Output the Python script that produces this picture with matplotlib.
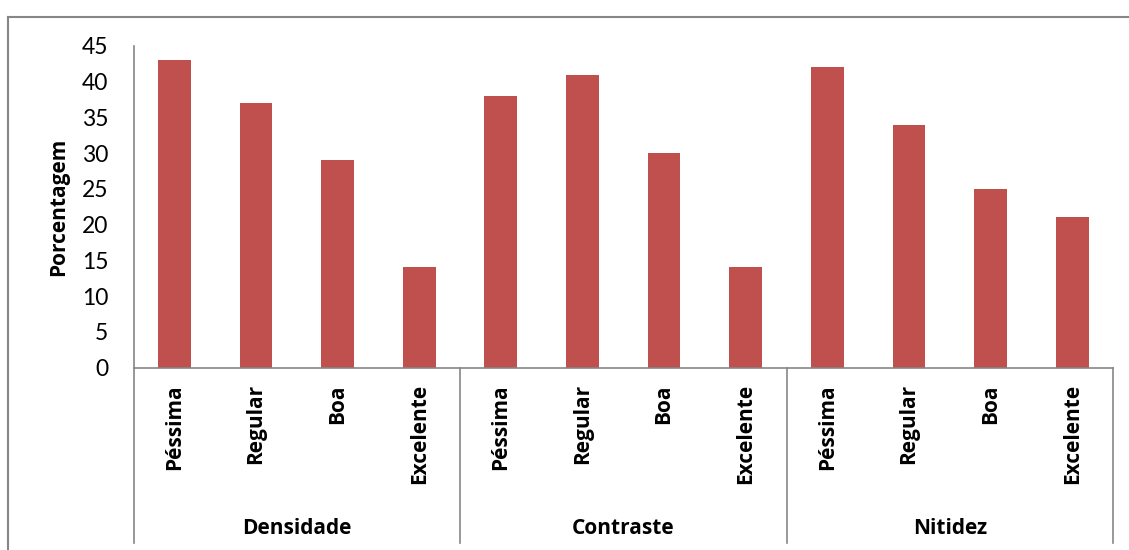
import matplotlib
matplotlib.use("Agg")
import matplotlib.pyplot as plt
from matplotlib.lines import Line2D
import matplotlib.transforms as mtransforms

# Survey results: percentage of ratings per image attribute
groups = ["Densidade", "Contraste", "Nitidez"]
ratings = ["Péssima", "Regular", "Boa", "Excelente"]
densidade = [43, 37, 29, 14]
contraste = [38, 41, 30, 14]
nitidez = [42, 34, 25, 21]
y_ticks = [0, 5, 10, 15, 20, 25, 30, 35, 40, 45]

values = densidade + contraste + nitidez
labels = ratings * len(groups)
positions = list(range(len(values)))

plt.rcParams["font.family"] = ["Lato", "DejaVu Sans"]
bold_font = dict(family=["Open Sans", "DejaVu Sans"], fontweight="bold", fontsize=15)

W, H = 1129, 550
fig = plt.figure(figsize=(W / 100, H / 100), dpi=100)

# plot area in pixel coordinates
left_px, right_px, top_px, bottom_px = 133.5, 1113.0, 46.0, 367.5
ax = fig.add_axes([left_px / W, 1 - bottom_px / H,
                   (right_px - left_px) / W, (bottom_px - top_px) / H])

bar_color = "#C0504D"
axis_color = "#868686"

ax.bar(positions, values, width=0.4, color=bar_color, zorder=2)

ax.set_xlim(-0.5, len(values) - 0.5)
ax.set_ylim(0, 45)
ax.set_yticks(y_ticks)
ax.tick_params(axis="y", length=0, labelsize=16.5, pad=18)
ax.set_xticks([])
for s in ["top", "right"]:
    ax.spines[s].set_visible(False)
for s in ["left", "bottom"]:
    ax.spines[s].set_color(axis_color)
    ax.spines[s].set_linewidth(1.2)

ax.set_ylabel("Porcentagem", **bold_font)
ax.yaxis.set_label_coords(-(left_px - 69) / (right_px - left_px), 0.5)

# multi-level category axis below the plot
trans = mtransforms.blended_transform_factory(ax.transData, ax.transAxes)
axes_h = bottom_px - top_px
low = -(543 - bottom_px) / axes_h
for i in range(len(groups) + 1):
    xsep = -0.5 + 4 * i
    ax.add_line(Line2D([xsep, xsep], [0, low], transform=trans,
                       color=axis_color, lw=1.2, clip_on=False))

label_top = -(384 - bottom_px) / axes_h
for p, lab in zip(positions, labels):
    ax.text(p, label_top, lab, transform=trans, rotation=90,
            ha="center", va="top", **bold_font)

group_y = -(528 - bottom_px) / axes_h
for g, name in enumerate(groups):
    ax.text(4 * g + 1.5, group_y, name, transform=trans,
            ha="center", va="center", **bold_font)

# outer chart frame
fig.add_artist(Line2D([7.5 / W, 1.0], [1 - 16.5 / H, 1 - 16.5 / H],
                      transform=fig.transFigure, color=axis_color, lw=1.5))
fig.add_artist(Line2D([7.5 / W, 7.5 / W], [0.0, 1 - 16.5 / H],
                      transform=fig.transFigure, color=axis_color, lw=1.5))

fig.savefig("out.png", dpi=100, facecolor="white")
